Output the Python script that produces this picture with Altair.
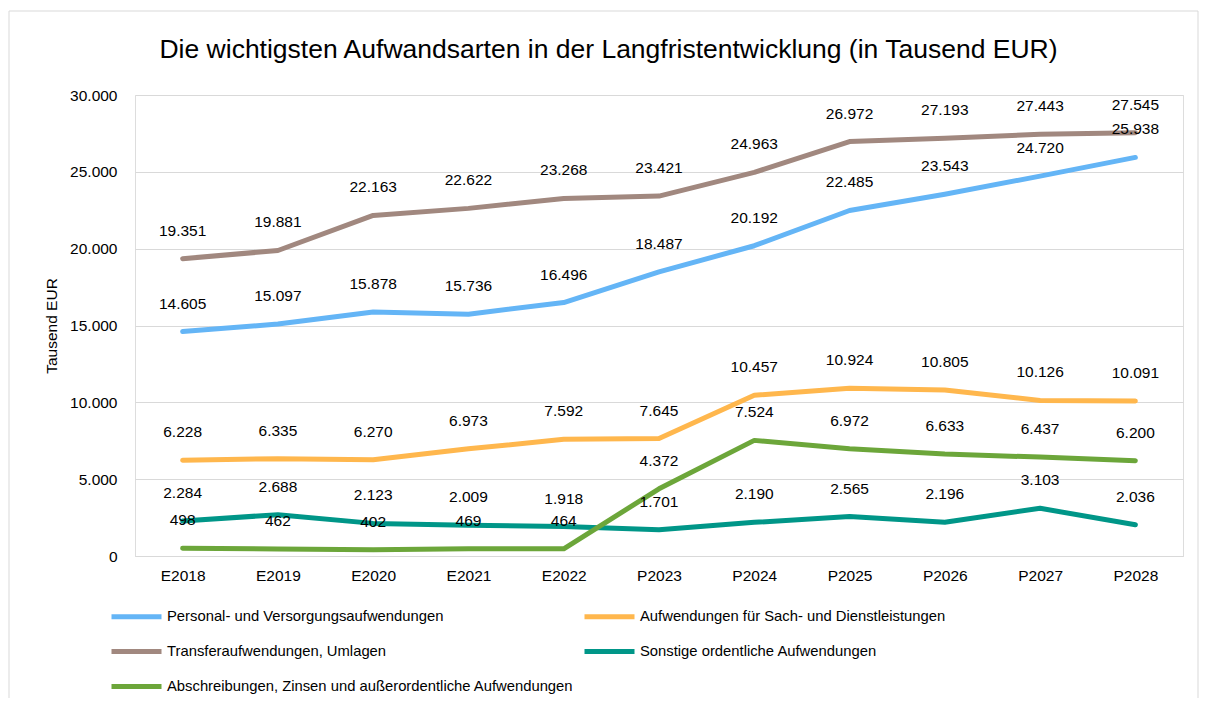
import altair as alt
import pandas as pd

categories = ["E2018", "E2019", "E2020", "E2021", "E2022", "P2023", "P2024", "P2025", "P2026", "P2027", "P2028"]
series_names = [
    "Personal- und Versorgungsaufwendungen",
    "Aufwendungen für Sach- und Dienstleistungen",
    "Transferaufwendungen, Umlagen",
    "Sonstige ordentliche Aufwendungen",
    "Abschreibungen, Zinsen und außerordentliche Aufwendungen",
]
personal = [14605, 15097, 15878, 15736, 16496, 18487, 20192, 22485, 23543, 24720, 25938]
sach = [6228, 6335, 6270, 6973, 7592, 7645, 10457, 10924, 10805, 10126, 10091]
transfer = [19351, 19881, 22163, 22622, 23268, 23421, 24963, 26972, 27193, 27443, 27545]
sonstige = [2284, 2688, 2123, 2009, 1918, 1701, 2190, 2565, 2196, 3103, 2036]
abschreibungen = [498, 462, 402, 469, 464, 4372, 7524, 6972, 6633, 6437, 6200]
colors = ["#64b5f6", "#ffb74d", "#a1887f", "#009688", "#6ca63a"]
title_text = "Die wichtigsten Aufwandsarten in der Langfristentwicklung (in Tausend EUR)"

rows = []
for name, vals in zip(series_names, [personal, sach, transfer, sonstige, abschreibungen]):
    for c, v in zip(categories, vals):
        rows.append({"Jahr": c, "Wert": v, "Serie": name})
df = pd.DataFrame(rows)

FONT = "Liberation Sans"
FS = 15.5

x = alt.X("Jahr:N", sort=categories, title=None,
          axis=alt.Axis(labelAngle=0, ticks=False, domain=True, domainColor="#d9d9d9",
                        labelPadding=12, labelFontSize=FS, labelFont=FONT, labelColor="#000000"))
y = alt.Y("Wert:Q", title="Tausend EUR",
          scale=alt.Scale(domain=[0, 30000], nice=False),
          axis=alt.Axis(values=[0, 5000, 10000, 15000, 20000, 25000, 30000], ticks=False, domain=False,
                        gridColor="#d9d9d9", gridWidth=1, labelPadding=18, labelFontSize=FS,
                        labelFont=FONT, labelColor="#000000",
                        labelExpr="replace(format(datum.value, ','), ',', '.')",
                        titleFont=FONT, titleFontSize=FS, titleFontWeight="normal",
                        titleColor="#000000", titlePadding=10))
color = alt.Color("Serie:N", sort=series_names,
                  scale=alt.Scale(domain=series_names, range=colors),
                  legend=alt.Legend(title=None, orient="none", legendX=-26, legendY=509,
                                    columns=2, direction="horizontal", symbolType="M-1,0H4",
                                    symbolSize=400, symbolStrokeWidth=5, labelOffset=33,
                                    labelFontSize=14.8, labelFont=FONT, labelColor="#000000",
                                    labelLimit=600, columnPadding=0, rowPadding=12))

base = alt.Chart(df)
lines = base.mark_line(strokeWidth=5, strokeCap="round", strokeJoin="round").encode(x=x, y=y, color=color)
labels = base.transform_calculate(
    lbl="replace(format(datum.Wert, ','), ',', '.')"
).mark_text(dy=-28, fontSize=FS, font=FONT, color="#000000").encode(
    x=alt.X("Jahr:N", sort=categories), y="Wert:Q", text="lbl:N")

one = pd.DataFrame({"t": [title_text]})
border = alt.Chart(one).mark_rect(fill="transparent", stroke="#d9d9d9", strokeWidth=1).encode(
    x=alt.value(-126), x2=alt.value(1063), y=alt.value(-84), y2=alt.value(605))
title = alt.Chart(one).mark_text(fontSize=26.5, font=FONT, color="#000000", baseline="alphabetic",
                                 align="center").encode(
    x=alt.value(473.5), y=alt.value(-37), text="t:N")

chart = alt.layer(border, title, lines, labels).properties(
    width=1048, height=461,
    autosize=alt.AutoSizeParams(type="none"),
    padding={"left": 127, "top": 87, "right": 16, "bottom": 142},
).configure_view(stroke=None).configure(background="white")

chart.save("out.html", embed_options={"renderer": "svg", "actions": False})
